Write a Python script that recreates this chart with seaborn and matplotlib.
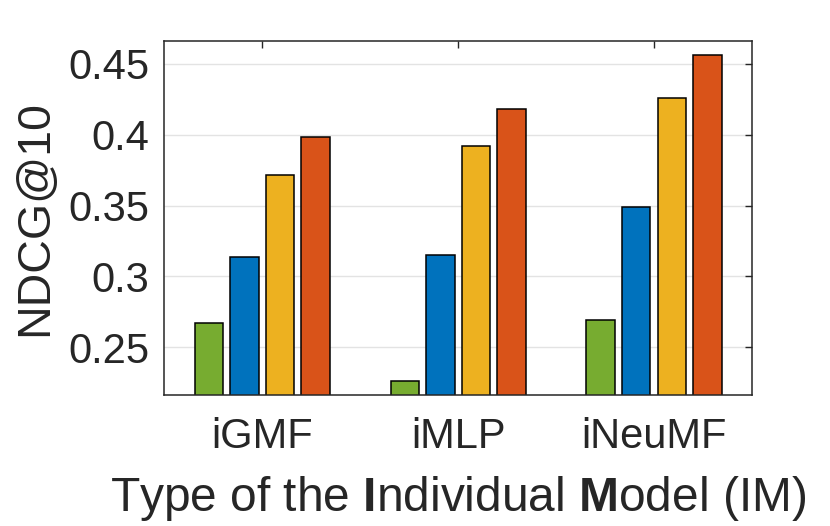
import pandas as pd
import numpy as np
import matplotlib
matplotlib.use('Agg')
import matplotlib.pyplot as plt
import seaborn as sns

## DATA
models = ['iGMF', 'iMLP', 'iNeuMF']
series = ['s1', 's2', 's3', 's4']
s1_vals = [0.2673, 0.2260, 0.2694]
s2_vals = [0.3136, 0.3148, 0.3488]
s3_vals = [0.3716, 0.3923, 0.4258]
s4_vals = [0.3984, 0.4181, 0.4561]
bar_colors = ['#77AC30', '#0072BD', '#EDB120', '#D95319']
ytick_vals = [0.25, 0.3, 0.35, 0.4, 0.45]
ytick_labels = ['0.25', '0.3', '0.35', '0.4', '0.45']

df = pd.DataFrame({
    'model': models * 4,
    'series': np.repeat(series, 3),
    'ndcg': s1_vals + s2_vals + s3_vals + s4_vals,
})

## STYLE
sns.set_style('white')
plt.rcParams['font.family'] = ['Liberation Sans', 'DejaVu Sans']
plt.rcParams['mathtext.fontset'] = 'custom'
plt.rcParams['mathtext.rm'] = 'Liberation Sans'
plt.rcParams['mathtext.bf'] = 'Liberation Sans:bold'
dark = '#262626'

fig = plt.figure(figsize=(8.3, 5.26), dpi=100)
ax = fig.add_axes([0.198, 0.249, 0.708, 0.673])

sns.barplot(data=df, x='model', y='ndcg', hue='series', order=models,
            hue_order=series, palette=bar_colors, width=0.727, gap=0.2,
            edgecolor='black', linewidth=1.1, saturation=1, legend=False, ax=ax)

ax.set_xlim(-0.5, 2.5)
ax.set_ylim(0.2164, 0.466)
ax.set_yticks(ytick_vals)
ax.set_yticklabels(ytick_labels)

#### grid and box like matlab
ax.set_axisbelow(True)
ax.yaxis.grid(True, color='#e3e3e3', linewidth=1)
ax.xaxis.grid(False)
for sp in ax.spines.values():
    sp.set_visible(True)
    sp.set_color(dark)
    sp.set_linewidth(1.1)
ax.tick_params(axis='both', direction='in', length=5, width=1, color=dark,
               top=True, right=True, labelsize=30, labelcolor=dark)
ax.tick_params(axis='y', pad=11)
ax.tick_params(axis='x', pad=16)

ax.set_ylabel('NDCG@10', fontsize=33.5, color=dark, labelpad=8)
ax.set_xlabel(r'Type of the $\mathbf{I}$ndividual $\mathbf{M}$odel (IM)',
              fontsize=34.5, color=dark, labelpad=12)

plt.savefig('out.png', dpi=100)
